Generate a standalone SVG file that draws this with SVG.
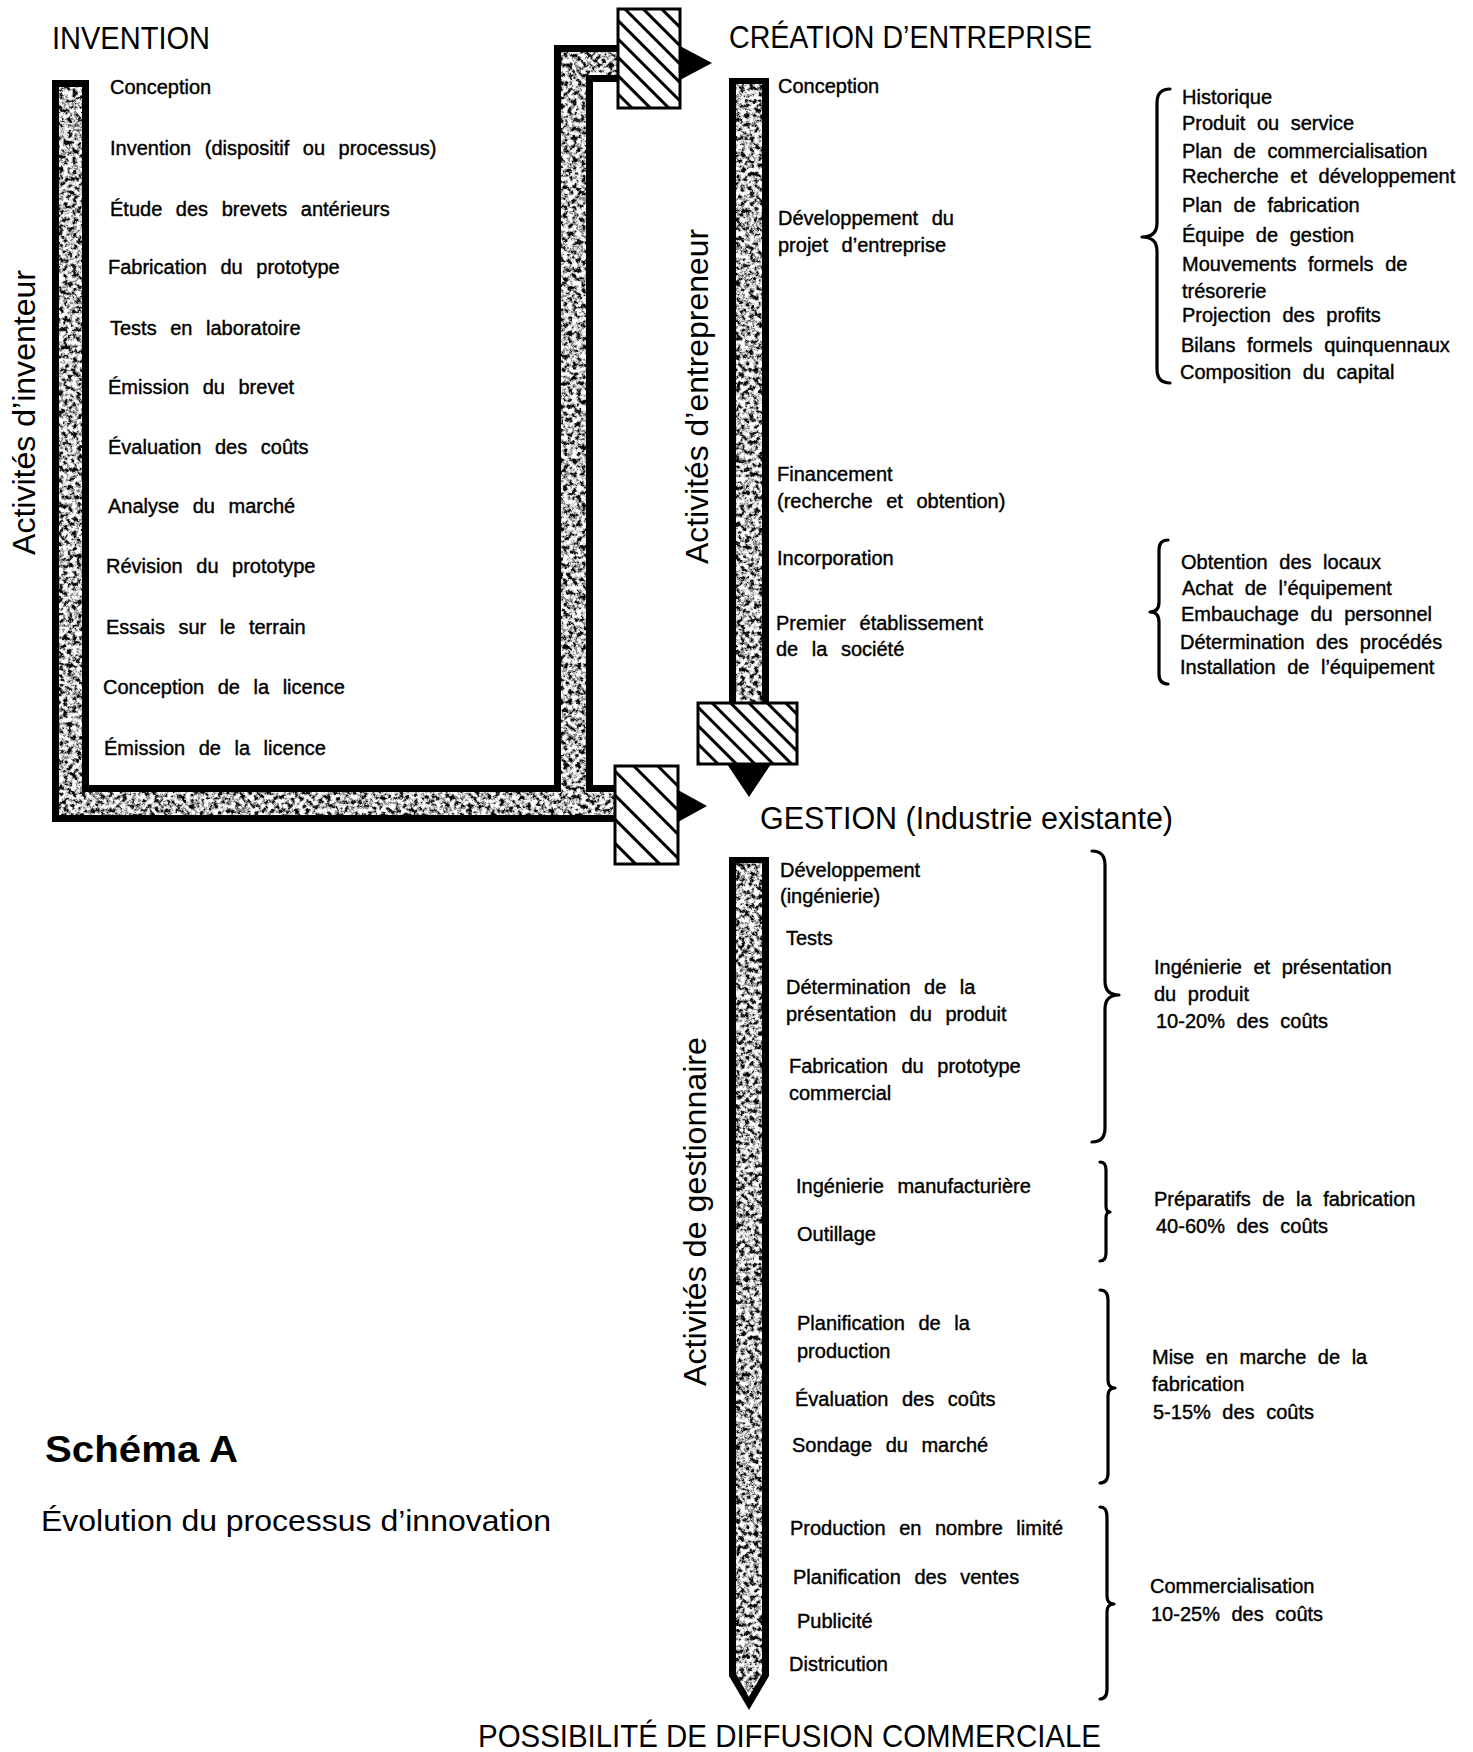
<svg xmlns="http://www.w3.org/2000/svg" width="1473" height="1752" viewBox="0 0 1473 1752">
<defs>
<style>
.t { font-family: "Liberation Sans", Arial, sans-serif; fill: #000; }
.item { font-size: 20px; word-spacing: 8px; stroke: #000; stroke-width: 0.4px; }
.side { font-size: 20px; word-spacing: 6px; stroke: #000; stroke-width: 0.4px; }
.title { font-size: 31px; }
.vlabel { font-size: 31px; }
.band { fill: #000; }
.grain { fill: #fff; filter: url(#grain); }
.hbox { stroke: #000; stroke-width: 3; }
.brace { fill: none; stroke: #000; stroke-width: 3.2; stroke-linecap: round; stroke-linejoin: round; }
.tri { fill: #000; }
</style>
<filter id="grain" filterUnits="userSpaceOnUse" x="0" y="0" width="1473" height="1752" color-interpolation-filters="sRGB">
  <feTurbulence type="fractalNoise" baseFrequency="0.22" numOctaves="3" seed="7" result="noise"/>
  <feColorMatrix in="noise" type="matrix" values="1 0 0 0 0  1 0 0 0 0  1 0 0 0 0  0 0 0 0 1" result="gray"/>
  <feComponentTransfer in="gray" result="bw">
    <feFuncR type="discrete" tableValues="0 0 0 0.15 0.55 0.85 1 1 1 1"/>
    <feFuncG type="discrete" tableValues="0 0 0 0.15 0.55 0.85 1 1 1 1"/>
    <feFuncB type="discrete" tableValues="0 0 0 0.15 0.55 0.85 1 1 1 1"/>
  </feComponentTransfer>
  <feComposite in="bw" in2="SourceGraphic" operator="in"/>
</filter>
<pattern id="hatchA" patternUnits="userSpaceOnUse" width="13" height="13" patternTransform="rotate(45)">
  <rect width="13" height="13" fill="#fff"/>
  <line x1="0" y1="6.5" x2="13" y2="6.5" stroke="#000" stroke-width="3"/>
</pattern>
<pattern id="hatchB" patternUnits="userSpaceOnUse" width="17" height="17" patternTransform="rotate(45)">
  <rect width="17" height="17" fill="#fff"/>
  <line x1="0" y1="8.5" x2="17" y2="8.5" stroke="#000" stroke-width="3"/>
</pattern>
</defs>
<rect width="1473" height="1752" fill="#fff"/>

<g id="invention">
  <text class="t title" x="52" y="49" textLength="158" lengthAdjust="spacingAndGlyphs">INVENTION</text>
  <text class="t vlabel" transform="translate(35,555) rotate(-90)" textLength="285" lengthAdjust="spacingAndGlyphs">Activités d’inventeur</text>
  <text class="t item" x="110" y="94">Conception</text>
  <text class="t item" x="110" y="155">Invention (dispositif ou processus)</text>
  <text class="t item" x="110" y="216">Étude des brevets antérieurs</text>
  <text class="t item" x="108" y="274">Fabrication du prototype</text>
  <text class="t item" x="110" y="335">Tests en laboratoire</text>
  <text class="t item" x="108" y="394">Émission du brevet</text>
  <text class="t item" x="108" y="454">Évaluation des coûts</text>
  <text class="t item" x="108" y="513">Analyse du marché</text>
  <text class="t item" x="106" y="573">Révision du prototype</text>
  <text class="t item" x="106" y="634">Essais sur le terrain</text>
  <text class="t item" x="103" y="694">Conception de la licence</text>
  <text class="t item" x="104" y="755">Émission de la licence</text>
</g>

<g id="creation">
  <text class="t title" x="729" y="48" textLength="363" lengthAdjust="spacingAndGlyphs">CRÉATION D’ENTREPRISE</text>
  <rect class="band" x="729" y="78" width="40" height="626"/>
  <rect class="grain" x="736" y="84" width="26" height="620"/>
  <text class="t vlabel" transform="translate(708,564) rotate(-90)" textLength="335" lengthAdjust="spacingAndGlyphs">Activités d’entrepreneur</text>
  <text class="t item" x="778" y="93">Conception</text>
  <text class="t item" x="778" y="225">Développement du</text>
  <text class="t item" x="778" y="252">projet d’entreprise</text>
  <text class="t item" x="777" y="481">Financement</text>
  <text class="t item" x="777" y="508">(recherche et obtention)</text>
  <text class="t item" x="777" y="565">Incorporation</text>
  <text class="t item" x="776" y="630">Premier établissement</text>
  <text class="t item" x="776" y="656">de la société</text>
  <path class="brace" d="M1170,89 Q1157,89 1157,103 L1157,223 Q1157,237 1142,237 Q1157,237 1157,251 L1157,369 Q1157,383 1170,383"/>
  <text class="t side" x="1182" y="104">Historique</text>
  <text class="t side" x="1182" y="130">Produit ou service</text>
  <text class="t side" x="1182" y="158">Plan de commercialisation</text>
  <text class="t side" x="1182" y="183">Recherche et développement</text>
  <text class="t side" x="1182" y="212">Plan de fabrication</text>
  <text class="t side" x="1182" y="242">Équipe de gestion</text>
  <text class="t side" x="1182" y="271">Mouvements formels de</text>
  <text class="t side" x="1182" y="298">trésorerie</text>
  <text class="t side" x="1182" y="322">Projection des profits</text>
  <text class="t side" x="1181" y="352">Bilans formels quinquennaux</text>
  <text class="t side" x="1180" y="379">Composition du capital</text>
  <path class="brace" d="M1168,540 Q1159,540 1159,550 L1159,602 Q1159,612 1150,612 Q1159,612 1159,622 L1159,674 Q1159,684 1168,684"/>
  <text class="t side" x="1181" y="569">Obtention des locaux</text>
  <text class="t side" x="1182" y="595">Achat de l’équipement</text>
  <text class="t side" x="1181" y="621">Embauchage du personnel</text>
  <text class="t side" x="1180" y="649">Détermination des procédés</text>
  <text class="t side" x="1180" y="674">Installation de l’équipement</text>
</g>

<g id="gestion">
  <text class="t title" x="760" y="829" textLength="413" lengthAdjust="spacingAndGlyphs">GESTION (Industrie existante)</text>
  <polygon class="band" points="729,857 769,857 769,1676 749,1710 729,1676"/>
  <polygon class="grain" points="736,863 762,863 762,1674 749,1697 736,1674"/>
  <text class="t vlabel" transform="translate(706,1386) rotate(-90)" textLength="349" lengthAdjust="spacingAndGlyphs">Activités de gestionnaire</text>
  <text class="t item" x="780" y="877">Développement</text>
  <text class="t item" x="780" y="903">(ingénierie)</text>
  <text class="t item" x="786" y="945">Tests</text>
  <text class="t item" x="786" y="994">Détermination de la</text>
  <text class="t item" x="786" y="1021">présentation du produit</text>
  <text class="t item" x="789" y="1073">Fabrication du prototype</text>
  <text class="t item" x="789" y="1100">commercial</text>
  <text class="t item" x="796" y="1193">Ingénierie manufacturière</text>
  <text class="t item" x="797" y="1241">Outillage</text>
  <text class="t item" x="797" y="1330">Planification de la</text>
  <text class="t item" x="797" y="1358">production</text>
  <text class="t item" x="795" y="1406">Évaluation des coûts</text>
  <text class="t item" x="792" y="1452">Sondage du marché</text>
  <text class="t item" x="790" y="1535">Production en nombre limité</text>
  <text class="t item" x="793" y="1584">Planification des ventes</text>
  <text class="t item" x="797" y="1628">Publicité</text>
  <text class="t item" x="789" y="1671">Districution</text>
  <path class="brace" d="M1092,851 Q1105,851 1105,865 L1105,981 Q1105,995 1119,995 Q1105,995 1105,1009 L1105,1128 Q1105,1142 1092,1142"/>
  <path class="brace" d="M1100,1162 Q1106,1162 1106,1170 L1106,1206 Q1106,1212 1110,1212 Q1106,1212 1106,1218 L1106,1253 Q1106,1261 1100,1261"/>
  <path class="brace" d="M1100,1290 Q1108,1290 1108,1300 L1108,1380 Q1108,1388 1115,1388 Q1108,1388 1108,1396 L1108,1473 Q1108,1483 1100,1483"/>
  <path class="brace" d="M1100,1507 Q1107,1507 1107,1517 L1107,1596 Q1107,1604 1114,1604 Q1107,1604 1107,1612 L1107,1689 Q1107,1699 1100,1699"/>
  <text class="t side" x="1154" y="974">Ingénierie et présentation</text>
  <text class="t side" x="1154" y="1001">du produit</text>
  <text class="t side" x="1156" y="1028">10-20% des coûts</text>
  <text class="t side" x="1154" y="1206">Préparatifs de la fabrication</text>
  <text class="t side" x="1156" y="1233">40-60% des coûts</text>
  <text class="t side" x="1152" y="1364">Mise en marche de la</text>
  <text class="t side" x="1152" y="1391">fabrication</text>
  <text class="t side" x="1153" y="1419">5-15% des coûts</text>
  <text class="t side" x="1150" y="1593">Commercialisation</text>
  <text class="t side" x="1151" y="1621">10-25% des coûts</text>
</g>

<g id="diffusion">
  <text class="t title" x="478" y="1747" textLength="623" lengthAdjust="spacingAndGlyphs">POSSIBILITÉ DE DIFFUSION COMMERCIALE</text>
</g>

<g id="caption">
  <text class="t" x="45" y="1462" font-size="37" font-weight="bold" textLength="193" lengthAdjust="spacingAndGlyphs">Schéma A</text>
  <text class="t" x="41" y="1531" font-size="29" textLength="510" lengthAdjust="spacingAndGlyphs">Évolution du processus d’innovation</text>
</g>

<g id="connectors">
  <path class="band" d="M52,80 H89 V785 H554 V45 H618 V82 H593 V785 H615 V822 H52 Z"/>
  <path class="grain" d="M59,87 H82 V792 H561 V52 H618 V75 H586 V792 H615 V815 H59 Z"/>
  <rect class="hbox" x="618" y="9" width="62" height="99" fill="url(#hatchA)"/>
  <polygon class="tri" points="680,46 712,63 680,80"/>
  <rect class="hbox" x="615" y="766" width="63" height="98" fill="url(#hatchB)"/>
  <polygon class="tri" points="678,790 707,806 678,822"/>
  <rect class="hbox" x="698" y="703" width="99" height="61" fill="url(#hatchA)"/>
  <polygon class="tri" points="727,764 749,797 771,764"/>
</g>
</svg>
